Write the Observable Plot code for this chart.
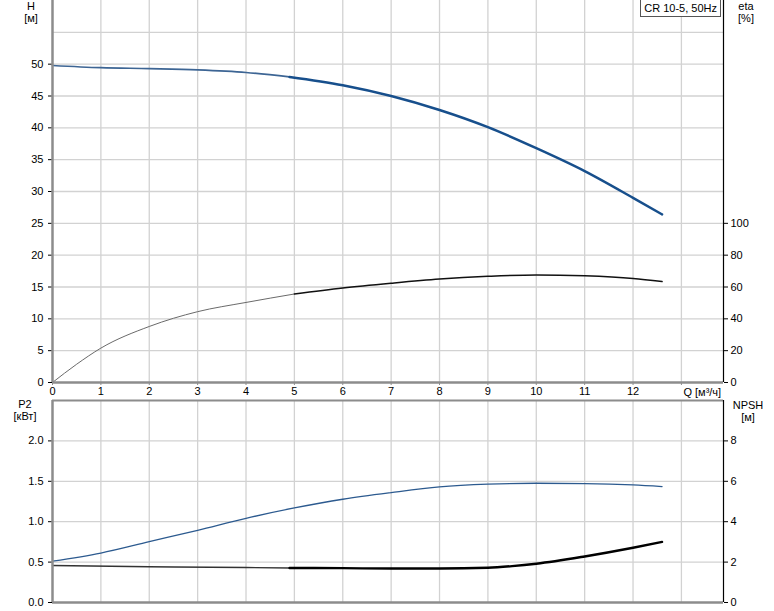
<!DOCTYPE html>
<html>
<head>
<meta charset="utf-8">
<script src="https://cdn.jsdelivr.net/npm/d3@7"></script>
<script src="https://cdn.jsdelivr.net/npm/@observablehq/plot@0.6"></script>
<style>
  html, body { margin: 0; padding: 0; background: #fff; }
  #chart { position: relative; width: 774px; height: 611px; font-family: "Liberation Sans", Arial, sans-serif; font-size: 11px; color: #000; overflow: hidden; }
  #chart svg { position: absolute; left: 0; overflow: visible; }
  .lbl { position: absolute; transform: translateX(-50%); white-space: nowrap; line-height: 12px; font-size: 11px; }
  .box { position: absolute; right: 53px; top: -1px; height: 16px; padding: 0 3px; white-space: nowrap; border: 1px solid #555; background: #fff; text-align: center; line-height: 17px; font-size: 11px; }
</style>
</head>
<body>
<div id="chart"></div>
<script>
// ---- data ----
const title = "CR 10-5, 50Hz";
const xTicks = [0,1,2,3,4,5,6,7,8,9,10,11,12,13];
const xLabel = "Q [м³/ч]";
const hTicks = [0,5,10,15,20,25,30,35,40,45,50];
const hGrid = [5,10,15,20,25,30,35,40,45,50,55];
const etaTicks = [0,20,40,60,80,100];
const p2Ticks = [0,0.5,1.0,1.5,2.0];
const npshTicks = [0,2,4,6,8];

const qH = [0,1,2,3,4,4.9,6,7,8,9,10,11,12,12.6];
const H  = [49.8,49.45,49.3,49.1,48.7,48.0,46.7,45.0,42.8,40.1,36.8,33.2,29.0,26.4];

const qEta = [0,0.5,1,2,3,4,5,6,7,8,9,10,11,12,12.6];
const eta  = [0,11.5,21.6,35.2,44.5,50.3,55.6,59.4,62.4,65.0,66.7,67.6,67.0,65.3,63.4];

const qP2 = [0,1,2,3,4,5,6,7,8,9,10,11,12,12.6];
const P2  = [0.512,0.612,0.753,0.893,1.042,1.17,1.278,1.36,1.43,1.464,1.476,1.472,1.455,1.435];

const qNpsh = [0,2,4,4.9,6,7,8,9,9.5,10,11,12,12.6];
const npsh  = [1.83,1.77,1.73,1.71,1.70,1.68,1.68,1.72,1.80,1.92,2.28,2.71,3.0];

// ---- build tables ----
const xMax = 13.87;
const tbl = (qs, vs) => qs.map((q, i) => ({q, v: vs[i]}));
const hData = tbl(qH, H);
const etaData = tbl(qEta, eta);
const p2Data = tbl(qP2, P2);
const npshData = tbl(qNpsh, npsh);
const split = 4.9;
// split into a thin first part and a thick second part sharing one point
const cut = d => { const i = d.findIndex(p => p.q >= split); return i < 0 ? d.length - 1 : i; };
const before = d => d.slice(0, cut(d) + 1);
const after = d => d.slice(cut(d));

const font = "Liberation Sans, Arial, sans-serif";
const gridColor = "#d2d2d2";
const axisGray = "#8c8c8c";

const topPlot = Plot.plot({
  width: 774, height: 400,
  marginLeft: 52, marginRight: 51, marginTop: 0, marginBottom: 18,
  style: {fontFamily: font, fontSize: "11px", color: "#000", background: "transparent"},
  x: {domain: [0, xMax]},
  y: {domain: [0, 60]},
  marks: [
    Plot.gridX(xTicks.slice(1), {stroke: gridColor, strokeOpacity: 1, strokeWidth: 1.3}),
    Plot.gridY(hGrid, {stroke: gridColor, strokeOpacity: 1, strokeWidth: 1.3}),
    Plot.axisY(hTicks, {anchor: "left", tickSize: 4, tickPadding: 5, label: null}),
    Plot.axisY(etaTicks.map(v => v / 4), {anchor: "right", tickSize: 4, tickPadding: 3, tickFormat: d => d * 4, label: null}),
    Plot.axisX(xTicks, {anchor: "bottom", tickSize: 3, tickPadding: 2, tickFormat: d => d === 13 ? "" : d, stroke: axisGray, label: null}),
    Plot.text([xLabel], {x: 13, y: 0, text: d => d, dx: 2, dy: 10, textAnchor: "start", fontSize: 11}),
    // eta
    Plot.line(before(etaData), {x: "q", y: d => d.v / 4, stroke: "#6a6a6a", strokeWidth: 1, curve: "monotone-x"}),
    Plot.line(after(etaData), {x: "q", y: d => d.v / 4, stroke: "#111", strokeWidth: 1.5, curve: "monotone-x"}),
    // H
    Plot.line(before(hData), {x: "q", y: "v", stroke: "#3d6594", strokeWidth: 1.6, curve: "monotone-x"}),
    Plot.line(after(hData), {x: "q", y: "v", stroke: "#174f8c", strokeWidth: 2.5, curve: "monotone-x"}),
    Plot.ruleY([0], {stroke: axisGray, strokeWidth: 2.5}),
    Plot.ruleX([0], {stroke: axisGray, strokeWidth: 2.5}),
    Plot.ruleX([xMax], {stroke: "#000", strokeWidth: 1.2})
  ]
});
topPlot.style.top = "0px";

const bottomPlot = Plot.plot({
  width: 774, height: 221,
  marginLeft: 52, marginRight: 51, marginTop: 10, marginBottom: 9,
  style: {fontFamily: font, fontSize: "11px", color: "#000", background: "transparent"},
  x: {domain: [0, xMax], axis: null},
  y: {domain: [0, 2.5], axis: null},
  marks: [
    Plot.gridX(xTicks.slice(1), {stroke: gridColor, strokeOpacity: 1, strokeWidth: 1.3}),
    Plot.gridY(p2Ticks.slice(1), {stroke: gridColor, strokeOpacity: 1, strokeWidth: 1.3}),
    Plot.axisY(p2Ticks, {anchor: "left", tickSize: 4, tickPadding: 5, tickFormat: d3.format(".1f"), label: null}),
    Plot.axisY(npshTicks.map(v => v / 4), {anchor: "right", tickSize: 4, tickPadding: 3, tickFormat: d => d * 4, label: null}),
    // P2
    Plot.line(p2Data, {x: "q", y: "v", stroke: "#2c5a8f", strokeWidth: 1.3, curve: "monotone-x"}),
    // NPSH
    Plot.line(before(npshData), {x: "q", y: d => d.v / 4, stroke: "#333", strokeWidth: 1.4, curve: "monotone-x"}),
    Plot.line(after(npshData), {x: "q", y: d => d.v / 4, stroke: "#000", strokeWidth: 2.4, curve: "monotone-x"}),
    Plot.ruleY([2.5], {stroke: axisGray, strokeWidth: 2}),
    Plot.ruleY([0], {stroke: axisGray, strokeWidth: 2.5}),
    Plot.ruleX([0], {stroke: axisGray, strokeWidth: 2.5}),
    Plot.ruleX([xMax], {stroke: "#000", strokeWidth: 1.2})
  ]
});
bottomPlot.style.top = "390px";

const chart = document.getElementById("chart");
chart.appendChild(topPlot);
chart.appendChild(bottomPlot);

const labels = [
  ["H", 31, 0], ["[м]", 31, 12],
  ["eta", 746, 0], ["[%]", 746, 12],
  ["P2", 25, 398], ["[кВт]", 25, 410],
  ["NPSH", 748, 399], ["[м]", 748, 411]
];
for (const [t, x, y] of labels) {
  const d = document.createElement("div");
  d.className = "lbl";
  d.style.left = x + "px";
  d.style.top = y + "px";
  d.textContent = t;
  chart.appendChild(d);
}
const box = document.createElement("div");
box.className = "box";
box.textContent = title;
chart.appendChild(box);
</script>
</body>
</html>
